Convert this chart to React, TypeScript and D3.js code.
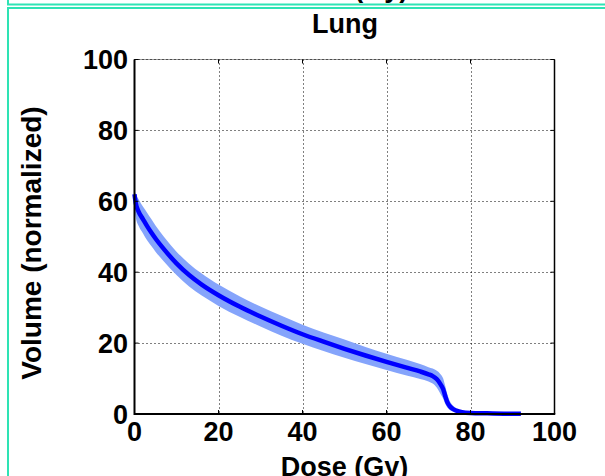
import React from "react";
import * as d3 from "d3";

// Dose-volume histogram for the lung: mean curve with its spread band
const doseGy = [0, 0.3, 1, 2, 3, 4, 5, 7, 10, 13, 16, 20, 25, 30, 35, 40, 45, 50, 55, 60, 65, 68, 70, 71, 72, 72.8, 73.5, 74, 74.5, 75, 76, 77, 78, 80, 84, 88, 92];
const volumeMean = [62, 59.5, 57, 55, 53, 51.2, 49.5, 46.5, 42.5, 39.2, 36.5, 33.5, 30.3, 27.5, 24.9, 22.5, 20.4, 18.4, 16.5, 14.7, 13, 12, 11.2, 10.7, 9.8, 8.5, 7, 5, 3.3, 2.3, 1.3, 0.8, 0.5, 0.3, 0.2, 0.1, 0.05];
const volumeLower = [58, 55.5, 53, 51, 49, 47.4, 45.8, 43, 39.2, 36, 33.4, 30.5, 27.4, 24.7, 22.1, 19.8, 17.8, 15.9, 14.1, 12.4, 10.8, 9.9, 9.2, 8.6, 7.4, 5.8, 4.3, 2.8, 1.8, 1.2, 0.7, 0.4, 0.25, 0.1, 0.05, 0.02, 0];
const volumeUpper = [63, 62, 60.5, 58.5, 56.8, 55, 53.2, 50, 45.8, 42.4, 39.6, 36.5, 33.2, 30.3, 27.7, 25.2, 23, 21, 18.9, 17, 15.2, 14.1, 13.2, 12.8, 12.2, 11.3, 10, 7.8, 5.5, 3.8, 2.2, 1.3, 0.8, 0.5, 0.4, 0.3, 0.2];

const xTicks = [0, 20, 40, 60, 80, 100];
const yTicks = [0, 20, 40, 60, 80, 100];

const W = 605;
const H = 476;
const plot = { left: 134.5, right: 554.5, top: 59.5, bottom: 414 };
const FONT = "'Liberation Sans', Arial, Helvetica, sans-serif";
const BORDER = "#2ee3b4";

export default function App() {
  const x = d3.scaleLinear().domain([0, 100]).range([plot.left, plot.right]);
  const y = d3.scaleLinear().domain([0, 100]).range([plot.bottom, plot.top]);

  const pts = doseGy.map((d, i) => ({ d, m: volumeMean[i], lo: volumeLower[i], hi: volumeUpper[i] }));

  const band = d3
    .area<{ d: number; lo: number; hi: number }>()
    .x((p) => x(p.d))
    .y0((p) => y(p.lo))
    .y1((p) => y(p.hi))
    .curve(d3.curveMonotoneX);

  const meanLine = d3
    .line<{ d: number; m: number }>()
    .x((p) => x(p.d))
    .y((p) => y(p.m))
    .curve(d3.curveMonotoneX);

  const tickLen = 4;
  const cx = (plot.left + plot.right) / 2;

  return (
    <svg
      width={W}
      height={H}
      style={{ position: "absolute", left: 0, top: 0, background: "#fff" }}
      fontFamily={FONT}
    >
      <rect x={0} y={0} width={W} height={H} fill="#fff" />

      {/* panel frames */}
      <path d={`M8,0 V4.5 H${W}`} fill="none" stroke={BORDER} strokeWidth={2} />
      <path d={`M${W},8 H8 V${H}`} fill="none" stroke={BORDER} strokeWidth={2} />

      {/* axis label of the panel above, cut by the frame */}
      <text x={cx} y={-3} textAnchor="middle" fontSize={27} fontWeight="bold">
        Dose (Gy)
      </text>

      {/* title */}
      <text x={345} y={33} textAnchor="middle" fontSize={27} fontWeight="bold">
        Lung
      </text>

      {/* grid */}
      <g stroke="#000" strokeWidth={1} strokeDasharray="1,3">
        {xTicks.slice(1, -1).map((t) => (
          <line key={`gx${t}`} x1={Math.round(x(t)) + 0.5} x2={Math.round(x(t)) + 0.5} y1={plot.top} y2={plot.bottom} />
        ))}
        {yTicks.slice(1, -1).map((t) => (
          <line key={`gy${t}`} x1={plot.left} x2={plot.right} y1={Math.round(y(t)) + 0.5} y2={Math.round(y(t)) + 0.5} />
        ))}
      </g>

      {/* spread band and mean curve */}
      <path d={band(pts) ?? ""} fill="#85a4fb" stroke="none" />
      <path d={meanLine(pts) ?? ""} fill="none" stroke="#0000ff" strokeWidth={4.5} strokeLinejoin="round" />

      {/* axes box */}
      <line x1={plot.left} x2={plot.right} y1={plot.top} y2={plot.top} stroke="#999" strokeWidth={1} />
      <line x1={plot.left} x2={plot.right} y1={plot.top} y2={plot.top} stroke="#000" strokeWidth={1} strokeDasharray="1,3" />
      <line x1={plot.right} x2={plot.right} y1={plot.top} y2={plot.bottom} stroke="#000" strokeWidth={1.5} />
      <line x1={plot.left} x2={plot.right + 0.75} y1={plot.bottom} y2={plot.bottom} stroke="#000" strokeWidth={2} />
      <line x1={plot.left} x2={plot.left} y1={plot.top} y2={plot.bottom + 1} stroke="#000" strokeWidth={2} />

      {/* ticks */}
      <g stroke="#000" strokeWidth={1}>
        {yTicks.map((t) => (
          <g key={`ty${t}`}>
            <line x1={plot.left} x2={plot.left + tickLen} y1={y(t)} y2={y(t)} />
            <line x1={plot.right - tickLen} x2={plot.right} y1={y(t)} y2={y(t)} />
          </g>
        ))}
        {xTicks.map((t) => (
          <g key={`tx${t}`}>
            <line x1={x(t)} x2={x(t)} y1={plot.bottom} y2={plot.bottom - tickLen} />
            <line x1={x(t)} x2={x(t)} y1={plot.top} y2={plot.top + tickLen} />
          </g>
        ))}
      </g>

      {/* tick labels */}
      <g fontSize={27} fontWeight="bold" fill="#000">
        {yTicks.map((t) => (
          <text key={`ly${t}`} x={128} y={y(t)} dy="0.36em" textAnchor="end">
            {t}
          </text>
        ))}
        {xTicks.map((t) => (
          <text key={`lx${t}`} x={x(t)} y={441} textAnchor="middle">
            {t}
          </text>
        ))}
      </g>

      {/* axis labels */}
      <text x={cx} y={476} textAnchor="middle" fontSize={27} fontWeight="bold">
        Dose (Gy)
      </text>
      <text
        transform={`translate(41,243) rotate(-90)`}
        textAnchor="middle"
        fontSize={28}
        fontWeight="bold"
      >
        Volume (normalized)
      </text>
    </svg>
  );
}
